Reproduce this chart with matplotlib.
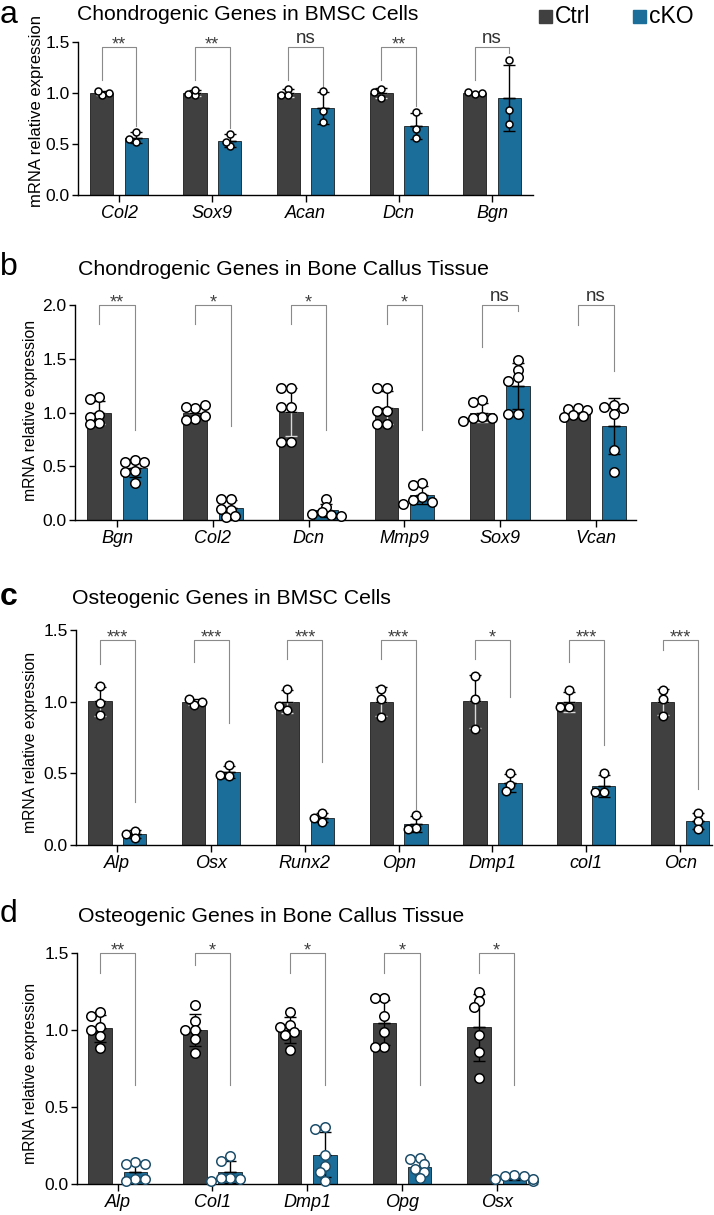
import numpy as np
import matplotlib
matplotlib.use('Agg')
import matplotlib.pyplot as plt
from matplotlib.patches import Rectangle

plt.rcParams['font.family'] = ['Liberation Sans', 'DejaVu Sans']

W, H = 714, 1215
CTRL = '#404040'
CKO = '#1b6e9a'

# ---- panel a: chondrogenic genes, BMSC cells (n=3)
genes_a = ['Col2', 'Sox9', 'Acan', 'Dcn', 'Bgn']
ctrl_a = [[0.98, 1.02, 1.00], [0.98, 1.03, 0.99], [1.04, 0.98, 0.98],
          [1.04, 0.95, 1.01], [0.99, 1.01, 1.00]]
cko_a = [[0.62, 0.52, 0.55], [0.60, 0.48, 0.52], [1.02, 0.82, 0.72],
         [0.81, 0.65, 0.56], [1.32, 0.83, 0.70]]
sig_a = ['**', '**', 'ns', '**', 'ns']
left_a = [1.13, 1.13, 1.13, 1.13, 1.13]
right_a = [0.68, 0.66, 1.05, 0.87, 1.39]

# ---- panel b: chondrogenic genes, bone callus (n=6)
genes_b = ['Bgn', 'Col2', 'Dcn', 'Mmp9', 'Sox9', 'Vcan']
ctrl_b = [[1.14, 1.13, 0.98, 0.96, 0.90, 0.89],
          [1.04, 1.05, 1.07, 0.94, 0.93, 0.97],
          [1.23, 1.23, 1.05, 1.05, 0.73, 0.73],
          [1.23, 1.23, 1.01, 1.01, 0.89, 0.89],
          [1.12, 1.10, 0.96, 0.95, 0.95, 0.92],
          [1.04, 1.03, 1.02, 0.98, 0.97, 0.96]]
cko_b = [[0.56, 0.54, 0.54, 0.46, 0.45, 0.34],
         [0.20, 0.20, 0.09, 0.10, 0.03, 0.04],
         [0.20, 0.12, 0.07, 0.05, 0.06, 0.04],
         [0.34, 0.33, 0.21, 0.19, 0.17, 0.15],
         [1.49, 1.40, 1.33, 1.29, 0.99, 0.99],
         [1.07, 1.05, 1.04, 0.99, 0.65, 0.45]]
sig_b = ['**', '*', '*', '*', 'ns', 'ns']
left_b = [1.82, 1.82, 1.82, 1.82, 1.61, 1.81]
right_b = [0.84, 0.87, 0.84, 0.84, 1.94, 1.39]

# ---- panel c: osteogenic genes, BMSC cells (n=3)
genes_c = ['Alp', 'Osx', 'Runx2', 'Opn', 'Dmp1', 'col1', 'Ocn']
ctrl_c = [[1.11, 0.99, 0.91], [0.98, 1.02, 1.00], [1.09, 0.94, 0.97],
          [1.09, 1.02, 0.89], [1.18, 1.02, 0.81], [1.08, 0.96, 0.96],
          [1.08, 1.02, 0.90]]
cko_c = [[0.10, 0.08, 0.05], [0.56, 0.48, 0.49], [0.22, 0.16, 0.19],
         [0.21, 0.12, 0.11], [0.50, 0.42, 0.38], [0.50, 0.37, 0.37],
         [0.22, 0.17, 0.11]]
sig_c = ['***', '***', '***', '***', '*', '***', '***']
left_c = [1.26, 1.28, 1.30, 1.30, 1.30, 1.28, 1.36]
right_c = [0.30, 0.85, 0.58, 0.25, 1.03, 0.70, 0.39]

# ---- panel d: osteogenic genes, bone callus (n=6)
genes_d = ['Alp', 'Col1', 'Dmp1', 'Opg', 'Osx']
ctrl_d = [[1.12, 1.09, 1.02, 1.00, 0.96, 0.88],
          [1.16, 1.06, 1.00, 1.00, 0.94, 0.85],
          [1.12, 1.03, 1.02, 0.99, 0.97, 0.87],
          [1.21, 1.21, 1.09, 0.99, 0.89, 0.89],
          [1.25, 1.19, 1.15, 0.97, 0.86, 0.69]]
cko_d = [[0.14, 0.13, 0.13, 0.03, 0.02, 0.03],
         [0.18, 0.15, 0.04, 0.04, 0.03, 0.02],
         [0.37, 0.36, 0.19, 0.12, 0.08, 0.02],
         [0.17, 0.16, 0.13, 0.10, 0.08, 0.04],
         [0.06, 0.05, 0.05, 0.03, 0.02, 0.03]]
sig_d = ['**', '*', '*', '*', '*']
left_d = [1.37, 1.42, 1.37, 1.37, 1.37]
right_d = [0.645, 0.645, 0.645, 0.645, 0.645]


fig = plt.figure(figsize=(W / 100, H / 100), dpi=100)


def px_axes(l, t, r, b):
    return fig.add_axes([l / W, 1 - b / H, (r - l) / W, (b - t) / H])


def swarm_x(ax, xc, vals, diam):
    # simple beeswarm in pixel space, circles may overlap a little
    disp = ax.transData.transform(np.column_stack([np.full(len(vals), xc), vals]))
    placed = []
    xs = []
    for px, py in disp:
        for k in [0, -1, 1, -2, 2, -3, 3, -4, 4]:
            cx = px + k * diam * 0.5
            if all((cx - qx) ** 2 + (py - qy) ** 2 >= (diam * 0.72) ** 2 for qx, qy in placed):
                break
        placed.append((cx, py))
        xs.append(cx)
    back = ax.transData.inverted().transform(np.column_stack([xs, disp[:, 1]]))
    return back[:, 0]


def panel(box, xlim, genes, ctrl, cko, sig, ymax, br_top, left, right,
          diam, light_err=True, cko_edge='black'):
    ax = px_axes(*box)
    ax.set_xlim(*xlim)
    ax.set_ylim(0, ymax)
    off, bw = 0.186, 0.25
    x = np.arange(len(genes))
    for grp, xs, col in [(ctrl, x - off, CTRL), (cko, x + off, CKO)]:
        means = [np.mean(v) for v in grp]
        sds = [np.std(v, ddof=1) for v in grp]
        ax.bar(xs, means, width=bw, color=col, edgecolor='black', linewidth=0.5, zorder=1)
        low_col = '#d9d9d9' if (col == CTRL and light_err) else 'black'
        ax.errorbar(xs, means, yerr=[sds, [0] * len(sds)], fmt='none', ecolor=low_col,
                    elinewidth=1, capsize=4.5, capthick=1, zorder=2)
        ax.errorbar(xs, means, yerr=[[0] * len(sds), sds], fmt='none', ecolor='black',
                    elinewidth=1, capsize=4.5, capthick=1, zorder=2)
        ec = cko_edge if col == CKO else 'black'
        for xc, v in zip(xs, grp):
            px = swarm_x(ax, xc, v, diam)
            ax.scatter(px, v, s=(diam * 0.72) ** 2, facecolor='white', edgecolor=ec,
                       linewidth=1.1, zorder=3, clip_on=False)
    # significance brackets
    for i, s in enumerate(sig):
        xl, xr = i - off, i + off
        ax.plot([xl, xl, xr, xr], [left[i], br_top, br_top, right[i]],
                color='#8a8a8a', lw=0.8, clip_on=False, zorder=0)
        if s == 'ns':
            ax.annotate(s, (i, br_top), xytext=(0, 3), textcoords='offset points',
                        ha='center', va='baseline', fontsize=13.5, color='#303030',
                        annotation_clip=False)
        else:
            ax.annotate(s, (i, br_top), xytext=(0, -1.5), textcoords='offset points',
                        ha='center', va='baseline', fontsize=13, color='#404040',
                        annotation_clip=False)
    ax.set_yticks(np.arange(0, ymax + 0.01, 0.5))
    ax.set_yticklabels([f'{t:.1f}' for t in np.arange(0, ymax + 0.01, 0.5)])
    ax.set_xticks(x)
    ax.set_xticklabels(genes, style='italic', fontsize=13)
    ax.tick_params(axis='y', length=4, width=1, pad=2, labelsize=12.5)
    ax.tick_params(axis='x', length=5, width=1, pad=2)
    for sp in ['top', 'right']:
        ax.spines[sp].set_visible(False)
    for sp in ['left', 'bottom']:
        ax.spines[sp].set_linewidth(1)
    return ax


panel((78, 42, 533, 195), (-0.44, 4.44), genes_a, ctrl_a, cko_a, sig_a, 1.5, 1.45,
      left_a, right_a, diam=7)
panel((75, 305, 636, 520), (-0.44, 5.42), genes_b, ctrl_b, cko_b, sig_b, 2.0, 2.0,
      left_b, right_b, diam=9.5)
panel((76, 630, 712, 845), (-0.44, 6.34), genes_c, ctrl_c, cko_c, sig_c, 1.5, 1.43,
      left_c, right_c, diam=8.5)
panel((77, 953, 537, 1184), (-0.43, 4.425), genes_d, ctrl_d, cko_d, sig_d, 1.5, 1.5,
      left_d, right_d, diam=9.5, light_err=False, cko_edge='#1d4e6a')


def ftext(x, y, s, **kw):
    fig.text(x / W, 1 - y / H, s, **kw)


# panel letters and titles
ftext(0, 23, 'a', fontsize=23, va='baseline')
ftext(0, 275, 'b', fontsize=23, va='baseline')
ftext(0, 605, 'c', fontsize=23, va='baseline', fontweight='bold')
ftext(0, 922, 'd', fontsize=23, va='baseline')
ftext(77, 20, 'Chondrogenic Genes in BMSC Cells', fontsize=15.2, va='baseline')
ftext(78, 275, 'Chondrogenic Genes in Bone Callus Tissue', fontsize=15.3, va='baseline')
ftext(72, 604, 'Osteogenic Genes in BMSC Cells', fontsize=15.3, va='baseline')
ftext(78, 922, 'Osteogenic Genes in Bone Callus Tissue', fontsize=15.3, va='baseline')

# y labels
ftext(37, 111, 'mRNA relative expression', fontsize=12, rotation=90, ha='center', va='center')
ftext(31, 410, 'mRNA relative expression', fontsize=11.3, rotation=90, ha='center', va='center')
ftext(31, 742, 'mRNA relative expression', fontsize=11.3, rotation=90, ha='center', va='center')
ftext(31, 1073, 'mRNA relative expression', fontsize=11.3, rotation=90, ha='center', va='center')

# legend
for x0, col, lab in [(539, CTRL, 'Ctrl'), (633, CKO, 'cKO')]:
    fig.add_artist(Rectangle((x0 / W, 1 - 23 / H), 13 / W, 13 / H,
                             transform=fig.transFigure, color=col))
    ftext(x0 + 16, 23, lab, fontsize=16.5, va='baseline')

fig.savefig('out.png', dpi=100)
